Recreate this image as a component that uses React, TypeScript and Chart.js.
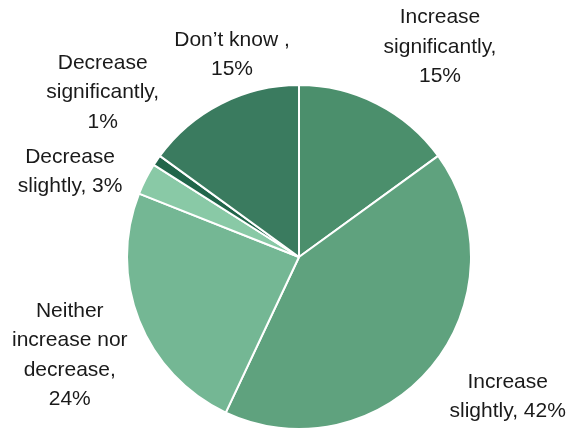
import React, { useEffect, useRef } from "react";
import { Chart, registerables } from "chart.js";

Chart.register(...registerables);

const categories: string[][] = [
  ["Increase", "significantly,", "15%"],
  ["Increase", "slightly, 42%"],
  ["Neither", "increase nor", "decrease,", "24%"],
  ["Decrease", "slightly, 3%"],
  ["Decrease", "significantly,", "1%"],
  ["Don\u2019t know ,", "15%"],
];
const values = [15, 42, 24, 3, 1, 15];
const colors = ["#4b8f6c", "#5fa27e", "#74b794", "#89c9a6", "#21654a", "#3a7b5f"];
// label placement: distance as multiple of radius, angle shift (deg) from slice mid-angle
const labelDist = [1.47, 1.46, 1.45, 1.42, 1.49, 1.24];
const labelShift = [6.9, -5.8, -1.6, -6.6, 5.8, 8.7];

const labelPlugin = {
  id: "outerLabels",
  afterDraw(chart: any) {
    const ctx = chart.ctx;
    const meta = chart.getDatasetMeta(0);
    ctx.save();
    ctx.font = '21px "Liberation Sans", Arial, sans-serif';
    ctx.fillStyle = "#1a1a1a";
    ctx.textAlign = "center";
    ctx.textBaseline = "middle";
    const lh = 29.5;
    meta.data.forEach((arc: any, i: number) => {
      const { x, y, startAngle, endAngle } = arc.getProps(
        ["x", "y", "startAngle", "endAngle"],
        true
      );
      const r = 172;
      const mid = (startAngle + endAngle) / 2 + (labelShift[i] * Math.PI) / 180;
      const d = r * labelDist[i];
      const cx = x + Math.cos(mid) * d;
      const cy = y + Math.sin(mid) * d;
      const lines = categories[i];
      const n = lines.length;
      lines.forEach((ln, k) => {
        ctx.fillText(ln, cx, cy + (k - (n - 1) / 2) * lh);
      });
    });
    ctx.restore();
  },
};

export default function App() {
  const ref = useRef<HTMLCanvasElement | null>(null);
  useEffect(() => {
    if (!ref.current) return;
    const chart = new Chart(ref.current, {
      type: "pie",
      data: {
        labels: categories.map((c) => c.join(" ")),
        datasets: [
          {
            data: values,
            backgroundColor: colors,
            borderColor: "#ffffff",
            borderWidth: 2,
          },
        ],
      },
      options: {
        responsive: false,
        animation: false,
        layout: { padding: { top: 84, bottom: 0, left: 126, right: 100 } },
        plugins: {
          legend: { display: false },
          tooltip: { enabled: false },
        },
      },
      plugins: [labelPlugin],
    });
    return () => chart.destroy();
  }, []);
  return (
    <div style={{ position: "fixed", left: 0, top: 0, width: 572, height: 430, background: "#fff" }}>
      <canvas ref={ref} width={572} height={430} style={{ width: 572, height: 430 }} />
    </div>
  );
}
